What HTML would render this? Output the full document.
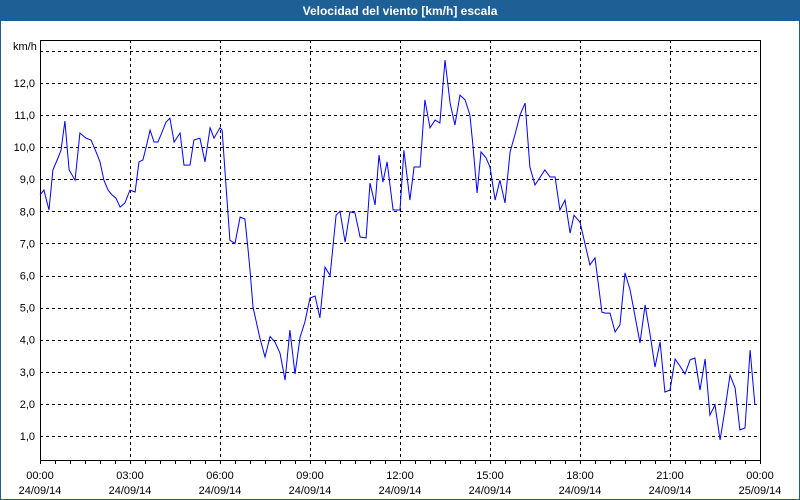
<!DOCTYPE html>
<html><head><meta charset="utf-8"><style>
html,body{margin:0;padding:0;background:#fff}
svg{display:block;font-family:"Liberation Sans",Tahoma,sans-serif}
</style></head><body>
<svg id="chart" width="800" height="500">
<rect x="0" y="0" width="800" height="500" fill="#fff" stroke="#1e5f96" stroke-width="2"/>
<rect x="0" y="0" width="800" height="21" fill="#1e5f96"/>
<text x="400" y="15" text-anchor="middle" fill="#fff" font-size="12" font-weight="bold">Velocidad del viento [km/h] escala</text>
<text x="13" y="50" font-size="11" fill="#000">km/h</text>
<g id="grid"></g><g id="axes"></g><g id="series"></g>
</svg>
<script>
const hours=[0,0.13,0.3,0.43,0.6,0.7,0.83,0.97,1.17,1.33,1.53,1.7,1.87,2,2.13,2.27,2.4,2.53,2.67,2.83,3,3.17,3.3,3.43,3.53,3.67,3.8,3.93,4.03,4.2,4.33,4.47,4.67,4.8,5,5.13,5.33,5.5,5.67,5.8,6,6.07,6.2,6.33,6.5,6.67,6.83,6.93,7,7.1,7.33,7.5,7.67,7.83,8,8.17,8.33,8.5,8.67,8.83,9,9.17,9.33,9.5,9.67,9.77,9.87,10,10.17,10.33,10.5,10.67,10.87,11,11.17,11.3,11.43,11.57,11.77,12,12.13,12.33,12.47,12.67,12.83,13,13.17,13.33,13.5,13.67,13.83,14,14.17,14.33,14.43,14.57,14.7,14.87,15,15.17,15.33,15.5,15.67,15.83,16,16.17,16.33,16.5,16.83,17,17.17,17.33,17.5,17.67,17.8,18,18.33,18.5,18.73,18.83,19,19.17,19.33,19.5,19.67,20,20.17,20.33,20.5,20.67,20.83,21,21.17,21.33,21.5,21.67,21.83,22,22.17,22.33,22.5,22.67,22.83,23,23.17,23.33,23.5,23.67,23.83];
const speeds=[8.51,8.66,8.04,9.29,9.66,9.9,10.81,9.29,8.97,10.44,10.28,10.22,9.85,9.54,8.97,8.66,8.51,8.41,8.13,8.26,8.66,8.6,9.54,9.6,9.97,10.53,10.16,10.16,10.38,10.78,10.9,10.16,10.44,9.44,9.44,10.22,10.28,9.54,10.6,10.28,10.6,10.53,8.8,7.1,7.0,7.82,7.76,6.86,6.17,5.02,4.05,3.46,4.1,3.93,3.58,2.74,4.3,2.93,4.08,4.55,5.3,5.36,4.68,6.26,6.0,6.95,7.88,8.0,7.04,7.98,7.95,7.2,7.17,8.88,8.2,9.75,8.91,9.54,8.04,8.04,9.9,8.35,9.38,9.38,11.47,10.6,10.84,10.75,12.71,11.37,10.69,11.62,11.47,11.0,10.06,8.57,9.85,9.66,9.38,8.35,8.97,8.26,9.85,10.38,11.0,11.37,9.38,8.82,9.29,9.07,9.07,8.04,8.35,7.32,7.88,7.66,6.33,6.55,4.86,4.83,4.83,4.24,4.46,6.08,5.55,3.9,5.08,4.2,3.15,3.93,2.37,2.43,3.4,3.18,2.93,3.37,3.43,2.43,3.4,1.65,1.97,0.88,1.81,2.9,2.5,1.19,1.25,3.68,1.97];
const yTicks=[1,2,3,4,5,6,7,8,9,10,11,12];
const xTickHours=[0,3,6,9,12,15,18,21,24];
const xTimeLabels=["00:00","03:00","06:00","09:00","12:00","15:00","18:00","21:00","00:00"];
const xDateLabels=["24/09/14","24/09/14","24/09/14","24/09/14","24/09/14","24/09/14","24/09/14","24/09/14","25/09/14"];
const L=40,R=760,T=40,B=460;
const xs=h=>L+h*(R-L)/24;
const ys=v=>436-(v-1)*32.1;
const NS="http://www.w3.org/2000/svg";
function mk(tag,attrs,parent){const e=document.createElementNS(NS,tag);for(const k in attrs)e.setAttribute(k,attrs[k]);parent.appendChild(e);return e;}
const grid=document.getElementById('grid'),axes=document.getElementById('axes'),series=document.getElementById('series');
[...yTicks,13].forEach(v=>{
  const g=mk('line',{x1:L,x2:R,y1:Math.round(ys(v))+0.5,y2:Math.round(ys(v))+0.5,stroke:'#000','stroke-dasharray':'3,3'},grid);
  
  
});
yTicks.forEach(v=>{
  const t=mk('text',{x:35,y:ys(v)+4,'text-anchor':'end','font-size':'11',fill:'#000'},axes);
  t.textContent=v.toFixed(1).replace('.',',');
  
  
});
xTickHours.forEach((h,i)=>{
  if(h>0&&h<24){
    const g=mk('line',{x1:xs(h)+0.5,x2:xs(h)+0.5,y1:T,y2:B,stroke:'#000','stroke-dasharray':'3,3'},grid);
    
    
  }
  const t1=mk('text',{x:xs(h),y:479,'text-anchor':'middle','font-size':'11',fill:'#000'},axes);
  t1.textContent=xTimeLabels[i];
  
  
  const t2=mk('text',{x:xs(h),y:494,'text-anchor':'middle','font-size':'11',fill:'#000'},axes);
  t2.textContent=xDateLabels[i];
  
  
});
for(let h=0;h<=24;h+=0.5){
  const m=mk('line',{x1:xs(h)+0.5,x2:xs(h)+0.5,y1:B,y2:B+4,stroke:'#000'},axes);
  
  
}
const box=mk('rect',{x:L+0.5,y:T+0.5,width:R-L,height:B-T,fill:'none',stroke:'#000'},axes);


const pts=hours.map((h,i)=>xs(h).toFixed(1)+','+ys(speeds[i]).toFixed(1)).join(' ');
const line=mk('polyline',{points:pts,fill:'none',stroke:'#0000ff','stroke-width':'1'},series);


</script>
</body></html>
